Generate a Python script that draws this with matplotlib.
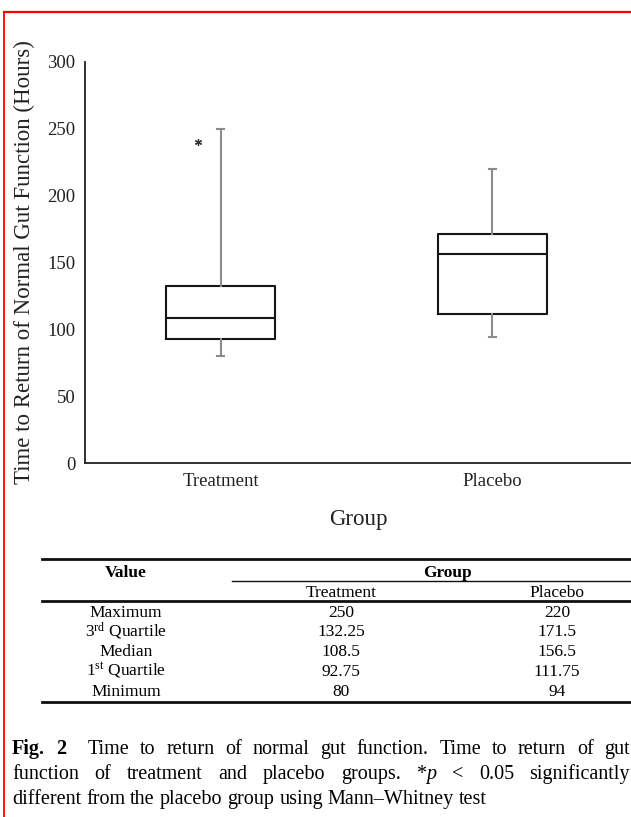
import matplotlib
matplotlib.use('Agg')
import matplotlib.pyplot as plt
from matplotlib.lines import Line2D

plt.rcParams['font.family'] = ['Liberation Serif', 'DejaVu Serif']
plt.rcParams['mathtext.fontset'] = 'custom'
plt.rcParams['mathtext.rm'] = 'Liberation Serif'
plt.rcParams['mathtext.it'] = 'Liberation Serif:italic'
plt.rcParams['mathtext.bf'] = 'Liberation Serif:bold'

# ---------------- data ----------------
groups = ["Treatment", "Placebo"]
stat_names = ["Maximum", "3$^{\\rm rd}$ Quartile", "Median", "1$^{\\rm st}$ Quartile", "Minimum"]
treatment_stats = [250, 132.25, 108.5, 92.75, 80]   # max, Q3, median, Q1, min
placebo_stats = [220, 171.5, 156.5, 111.75, 94]
treatment_outliers = [240]
y_ticks = [0, 50, 100, 150, 200, 250, 300]

W, H = 631, 817
fig = plt.figure(figsize=(W / 100, H / 100), dpi=100)


def fx(x):
    return x / W


def fy(y):
    return 1 - y / H


# ---------------- box plot ----------------
ax = fig.add_axes([fx(85), fy(463), fx(631) - fx(85), fy(62) - fy(463)])
stats = []
for name, s in zip(groups, [treatment_stats, placebo_stats]):
    stats.append(dict(label=name, whishi=s[0], q3=s[1], med=s[2], q1=s[3],
                      whislo=s[4], fliers=[]))
ax.bxp(stats, positions=[0, 1], widths=0.40, capwidths=0.025, showfliers=False,
       boxprops=dict(color='#151515', linewidth=1.5),
       medianprops=dict(color='#151515', linewidth=1.5),
       whiskerprops=dict(color='#8c8c8c', linewidth=1.5),
       capprops=dict(color='#8c8c8c', linewidth=1.5))
ax.plot([0 - 0.084] * len(treatment_outliers), treatment_outliers, linestyle='none',
        marker=(6, 2, 0), markersize=5, markeredgewidth=0.9, color='#333333')

ax.set_xlim(-0.5, 1.51)
ax.set_ylim(0, 300)
ax.set_yticks(y_ticks)
ax.set_xticks([0, 1])
ax.set_xticklabels(groups)
ax.tick_params(axis='both', length=0, labelsize=13.5, colors='#222222')
ax.tick_params(axis='y', pad=7)
ax.tick_params(axis='x', pad=7)
for sp in ['top', 'right']:
    ax.spines[sp].set_visible(False)
for sp in ['left', 'bottom']:
    ax.spines[sp].set_color('#222222')
    ax.spines[sp].set_linewidth(1.3)

ax.set_xlabel("Group", fontsize=16.5, color='#222222')
ax.xaxis.label.set_va('center')
ax.xaxis.set_label_coords(0.5, (463 - 519) / 401)
ax.set_ylabel("Time to Return of Normal Gut Function (Hours)", fontsize=16.5, color='#222222')
ax.yaxis.label.set_va('center')
ax.yaxis.set_label_coords((24 - 85) / 546, (463 - 262) / 401)

# ---------------- table ----------------
def hline(x0, x1, y, lw):
    fig.add_artist(Line2D([fx(x0), fx(x1)], [fy(y), fy(y)], color='#111111', linewidth=lw))


hline(42, 631, 559, 2.0)
hline(232, 631, 581, 1.0)
hline(42, 631, 601, 2.0)
hline(42, 631, 702, 2.0)

tfs = 12.5
col_label_x, col_t_x, col_p_x = 126, 341, 557
fig.text(fx(col_label_x), fy(577), "Value", ha='center', va='baseline', fontsize=tfs, weight='bold')
fig.text(fx(448), fy(577), "Group", ha='center', va='baseline', fontsize=tfs, weight='bold')
fig.text(fx(col_t_x), fy(597), groups[0], ha='center', va='baseline', fontsize=tfs)
fig.text(fx(col_p_x), fy(597), groups[1], ha='center', va='baseline', fontsize=tfs)
row_y = [617, 636.5, 656, 675.5, 695.5]
for yy, nm, tv, pv in zip(row_y, stat_names, treatment_stats, placebo_stats):
    fig.text(fx(col_label_x), fy(yy), nm, ha='center', va='baseline', fontsize=tfs)
    fig.text(fx(col_t_x), fy(yy), f"{tv:g}", ha='center', va='baseline', fontsize=tfs)
    fig.text(fx(col_p_x), fy(yy), f"{pv:g}", ha='center', va='baseline', fontsize=tfs)

# ---------------- caption ----------------
cfs = 14.5
fig.canvas.draw()
renderer = fig.canvas.get_renderer()


def run_width(text, **kw):
    t = fig.text(0, 0, text, fontsize=cfs, **kw)
    w = t.get_window_extent(renderer).width
    t.remove()
    return w


def R(s):
    return [(s, {})]


line1 = [[("Fig.", {'weight': 'bold'})], [("2", {'weight': 'bold'})]] + \
    [R(w) for w in "Time to return of normal gut function. Time to return of gut".split()]
gaps1 = [1, 2] + [1] * (len(line1) - 3)
line2 = [R(w) for w in "function of treatment and placebo groups.".split()] + \
    [[("*", {}), ("p", {'style': 'italic'})], R("<"), R("0.05"), R("significantly")]
gaps2 = [1] * (len(line2) - 1)
line3 = [R(w) for w in "different from the placebo group using Mann–Whitney test".split()]
gaps3 = [1] * (len(line3) - 1)

space_w = run_width("a a") - run_width("aa")
x_left, x_right = 12, 630


def place(words, gaps, baseline, justify):
    widths = [[run_width(t, **kw) for t, kw in w] for w in words]
    total = sum(sum(ws) for ws in widths)
    if justify:
        unit = (x_right - x_left - total) / sum(gaps)
    else:
        unit = space_w
    x = x_left
    for i, (w, ws) in enumerate(zip(words, widths)):
        for (t, kw), wd in zip(w, ws):
            fig.text(fx(x), fy(baseline), t, ha='left', va='baseline', fontsize=cfs, **kw)
            x += wd
        if i < len(gaps):
            x += unit * gaps[i]


place(line1, gaps1, 754, True)
place(line2, gaps2, 779, True)
place(line3, gaps3, 804, False)

# ---------------- red frame ----------------
fig.add_artist(Line2D([fx(3.5), fx(631)], [fy(12), fy(12)], color='#ff0000', linewidth=1.6))
fig.add_artist(Line2D([fx(3.5), fx(3.5)], [fy(12), fy(817)], color='#ff0000', linewidth=1.3))

fig.savefig("out.png", dpi=100)
